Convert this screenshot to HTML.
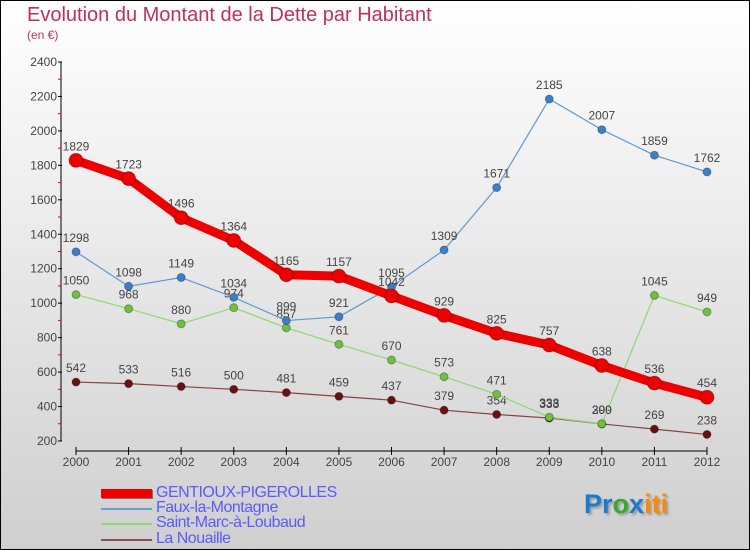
<!DOCTYPE html>
<html><head><meta charset="utf-8"><style>
body{margin:0;width:750px;height:550px;overflow:hidden;font-family:"Liberation Sans",sans-serif}
#wrap{position:relative;width:748px;height:548px;border:1px solid #000;background:linear-gradient(#ffffff,#cfcfcf)}
.t{position:absolute;color:#c0305a;white-space:nowrap}
.lg{position:absolute;left:155px;font-size:16px;color:#5a5aff;letter-spacing:-0.5px;white-space:nowrap}
.sw{position:absolute;left:100px;width:51px}
</style></head><body>
<div id="wrap">
<div class="t" style="left:26px;top:3px;font-size:20px">Evolution du Montant de la Dette par Habitant</div>
<div class="t" style="left:26px;top:27px;font-size:12px">(en €)</div>
<svg id="svg" width="748" height="548" style="position:absolute;left:0;top:0"></svg>
<div class="sw" style="top:488px;height:9px;background:#e00;box-shadow:1px 1px 0 #777"></div>
<div class="lg" style="top:483px">GENTIOUX-PIGEROLLES</div>
<div class="sw" style="top:507px;height:2px;background:#6aa0d0"></div>
<div class="lg" style="top:498px">Faux-la-Montagne</div>
<div class="sw" style="top:522px;height:2px;background:#8fd870"></div>
<div class="lg" style="top:513px">Saint-Marc-à-Loubaud</div>
<div class="sw" style="top:538px;height:2px;background:#8a5050"></div>
<div class="lg" style="top:529px">La Nouaille</div>
<div style="position:absolute;left:583px;top:488px;font-size:27px;font-weight:bold;text-shadow:2px 2px 2px #999;white-space:nowrap"><span style="color:#1a7acc">Pr</span><span style="color:#3a3">o</span><span style="color:#1a7acc">x</span><span style="color:#f80">iti</span></div>
</div>
<script>
const years=[2000,2001,2002,2003,2004,2005,2006,2007,2008,2009,2010,2011,2012];
const gentioux=[1829,1723,1496,1364,1165,1157,1042,929,825,757,638,536,454];
const faux=[1298,1098,1149,1034,899,921,1095,1309,1671,2185,2007,1859,1762];
const saintMarc=[1050,968,880,974,857,761,670,573,471,338,300,1045,949];
const nouaille=[542,533,516,500,481,459,437,379,354,333,299,269,238];
const yTicks=[200,400,600,800,1000,1200,1400,1600,1800,2000,2200,2400];
const svg=document.getElementById('svg');const NS='http://www.w3.org/2000/svg';
const X=i=>75+i*(706-75)/12;const Y=v=>440-(v-200)*(379/2200);
function mk(t,a,p){const e=document.createElementNS(NS,t);for(const k in a)e.setAttribute(k,a[k]);(p||svg).appendChild(e);return e;}
let e=mk('line',{x1:60,y1:61,x2:60,y2:440,stroke:'#000'});

e=mk('line',{x1:75,y1:450,x2:706,y2:450,stroke:'#000'});

yTicks.forEach((v,k)=>{mk('line',{x1:57,x2:61,y1:Y(v),y2:Y(v),stroke:'#000'});
 if(k<yTicks.length-1)mk('line',{x1:57,x2:60,y1:Y(v+100),y2:Y(v+100),stroke:'#e00'});
 const t=mk('text',{x:56,y:Y(v)+4,'text-anchor':'end','font-size':12,fill:'#444'});t.textContent=v;
 });
years.forEach((y,i)=>{mk('line',{x1:X(i),x2:X(i),y1:446,y2:454,stroke:'#000'});
 const t=mk('text',{x:X(i),y:465,'text-anchor':'middle','font-size':12,fill:'#444'});t.textContent=y;
 });
function series(d,col,dot,w,r,name){const g=mk('g',{});
 
 mk('polyline',{points:d.map((v,i)=>X(i)+','+Y(v)).join(' '),fill:'none',stroke:col,'stroke-width':w,'stroke-linejoin':'round'},g);
 d.forEach((v,i)=>{const c=mk('circle',{cx:X(i),cy:Y(v),r:r,fill:dot,stroke:'rgba(0,0,0,0.3)'},g);
  
  const t=mk('text',{x:X(i),y:Y(v)-10,'text-anchor':'middle','font-size':12,fill:'#444'},g);t.textContent=v;});}
series(nouaille,'#8a4040','#6a1010',1.2,4,'series-nouaille');
series(saintMarc,'#8fd870','#70c040',1.2,4,'series-saint-marc');
series(faux,'#5a9ad0','#3a80c8',1.2,4,'series-faux');
series(gentioux,'#ee0000','#ee0000',9,7,'series-gentioux');
</script>
</body></html>
